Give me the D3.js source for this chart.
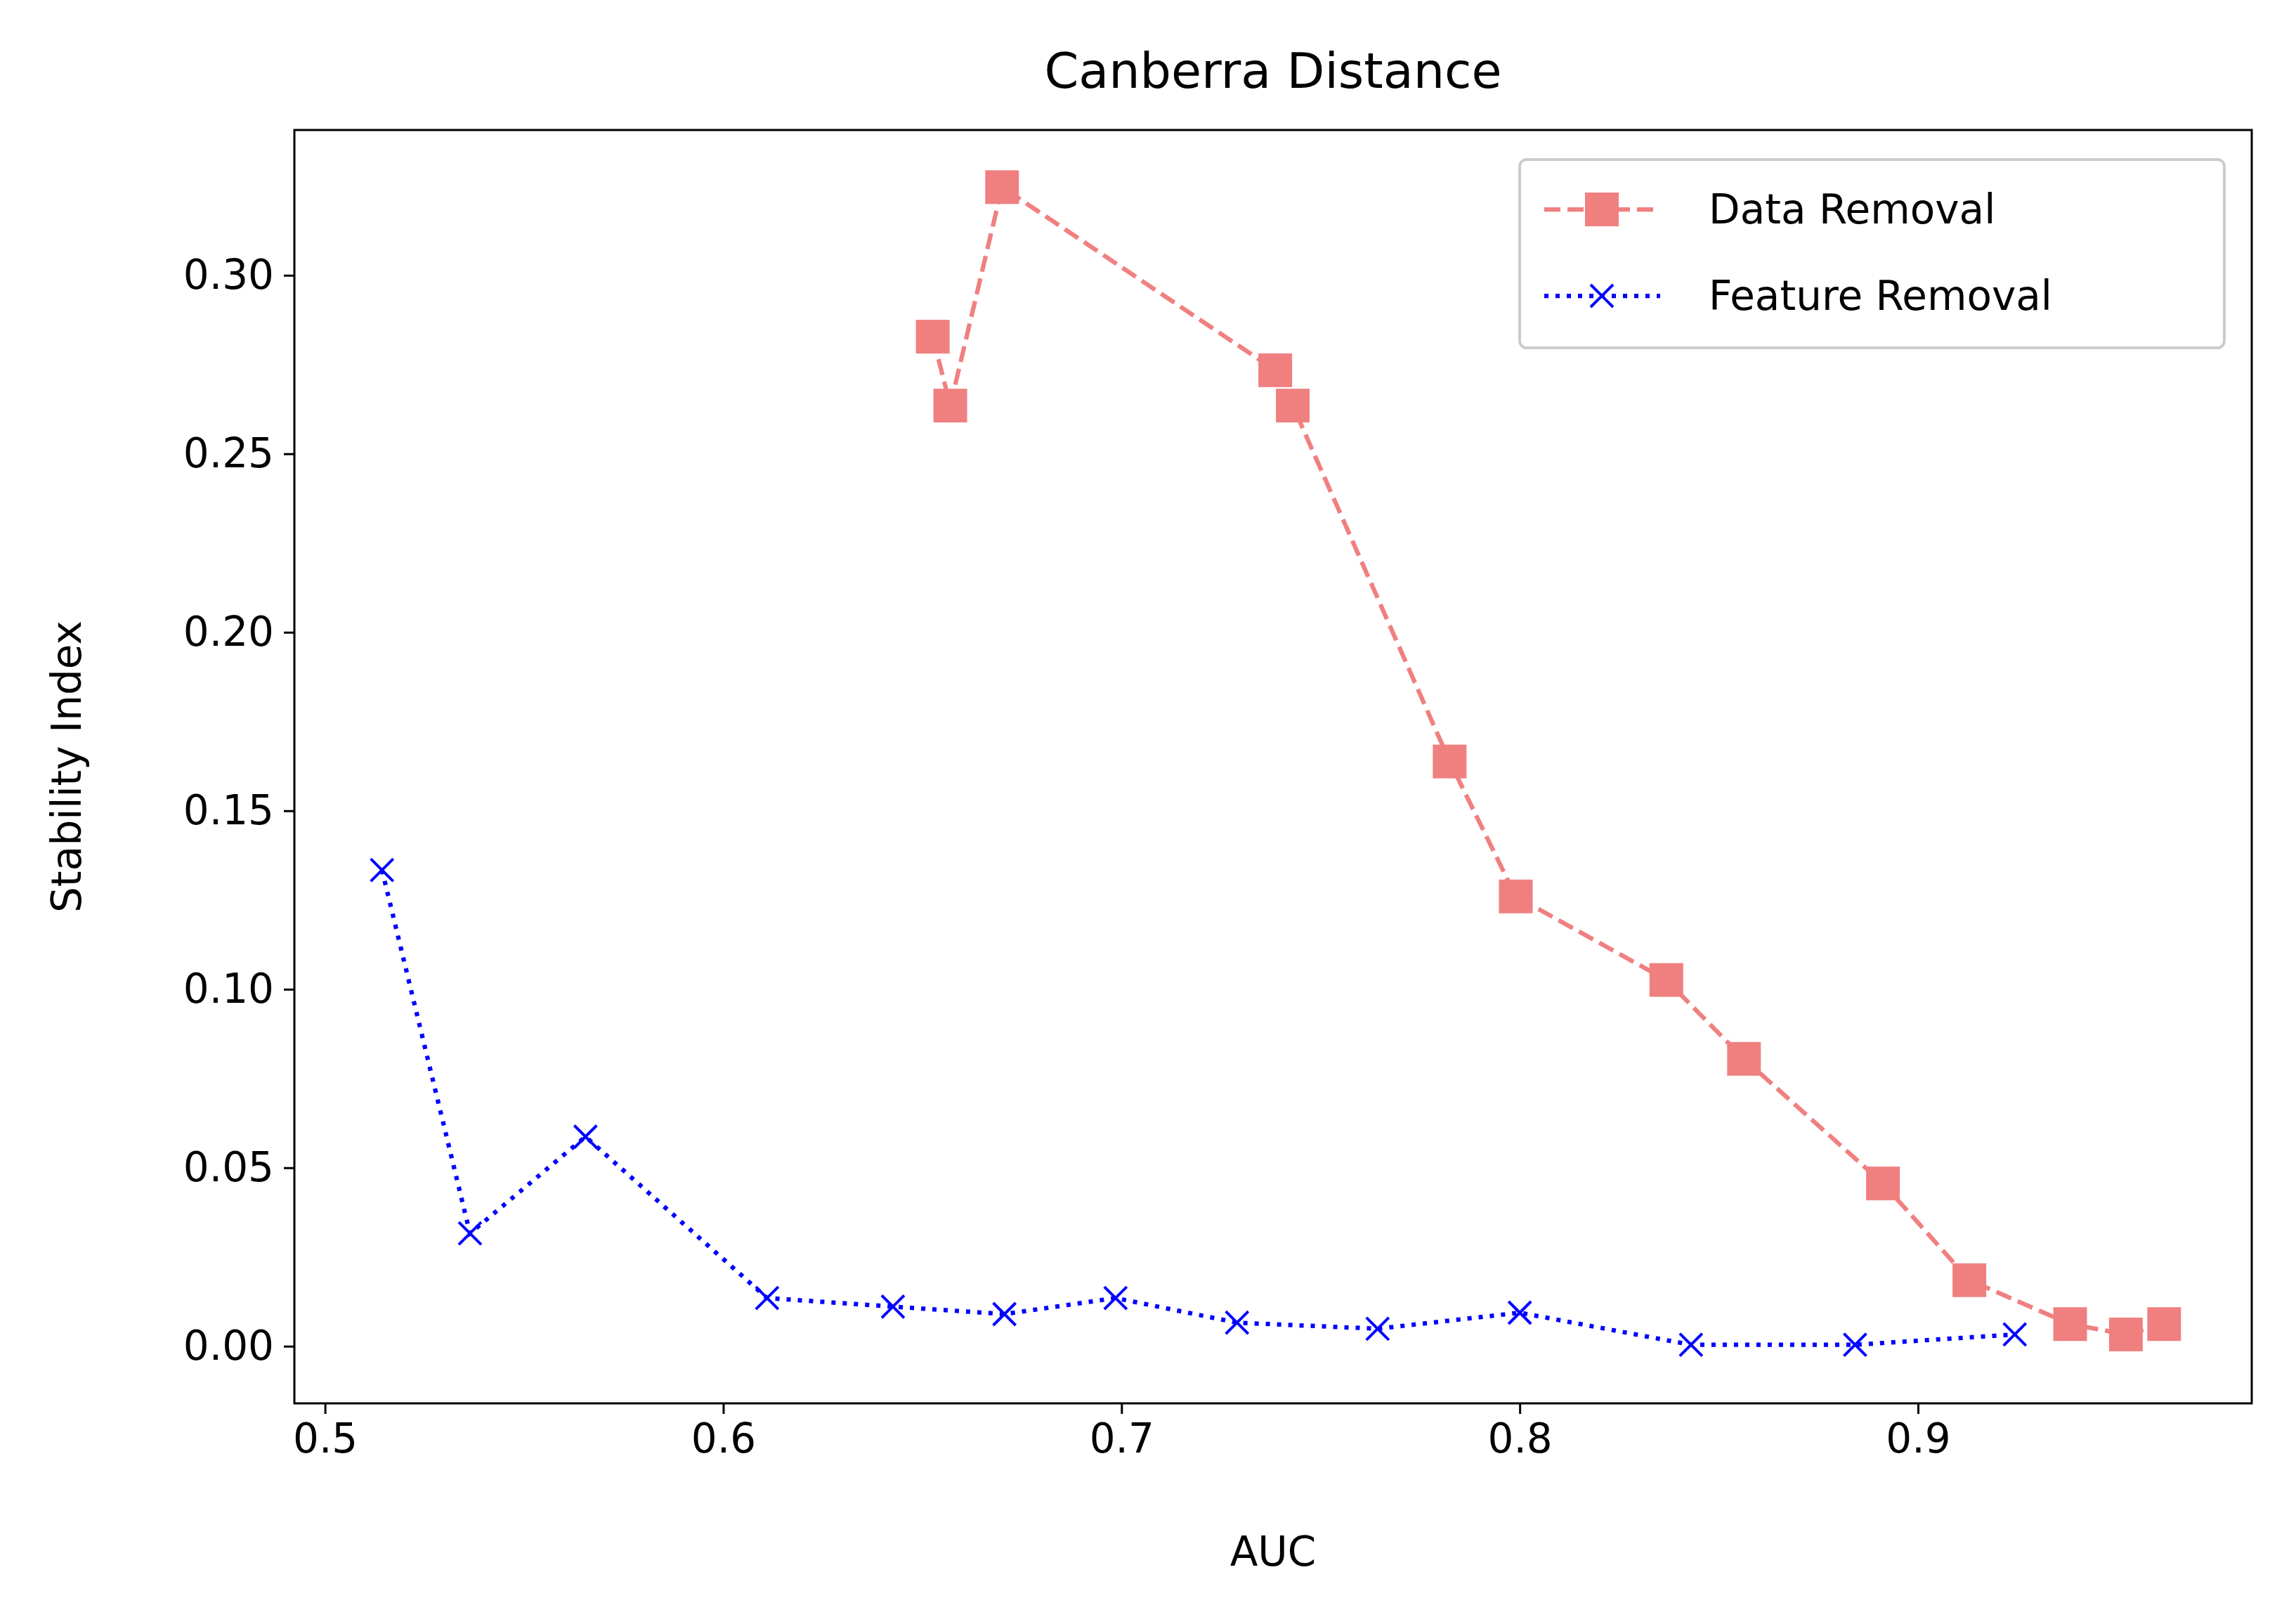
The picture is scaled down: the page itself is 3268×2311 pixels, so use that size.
<!DOCTYPE html>
<html><head><meta charset="utf-8">
<script src="https://cdn.jsdelivr.net/npm/d3@7"></script>
<style>body{margin:0;background:#fff}text{font-family:"DejaVu Sans",sans-serif}</style>
</head><body>
<script>
var dataAuc = [0.6526,0.657,0.670,0.7386,0.743,0.7824,0.799,0.8368,0.8563,0.8912,0.9129,0.9382,0.9522,0.9618];
var dataStab = [0.2828,0.2635,0.3247,0.2734,0.2635,0.1638,0.126,0.1026,0.0805,0.0456,0.0185,0.0062,0.0033,0.0062];
var featAuc = [0.5143,0.5364,0.5654,0.611,0.6426,0.6706,0.6985,0.729,0.7643,0.8,0.843,0.8842,0.9243];
var featStab = [0.1334,0.0316,0.0587,0.0135,0.0111,0.009,0.0135,0.0066,0.0049,0.0094,0.0004,0.0004,0.0033];
var xTicks = [0.5,0.6,0.7,0.8,0.9];
var yTicks = [0,0.05,0.1,0.15,0.2,0.25,0.3];

var W = 3268, H = 2311, L = 419, R = 3205, T = 185, B = 1997;
var FS = 58;
var svg = d3.select('body').append('svg').attr('width', W).attr('height', H);
var x = d3.scaleLinear().domain([0.4923,0.9838]).range([L,R]);
var y = d3.scaleLinear().domain([-0.016,0.3407]).range([B,T]);

var xa = svg.append('g').attr('transform', `translate(0,${B})`)
  .call(d3.axisBottom(x).tickValues(xTicks).tickFormat(d3.format('.1f')).tickSize(15).tickPadding(14));
var ya = svg.append('g').attr('transform', `translate(${L},0)`)
  .call(d3.axisLeft(y).tickValues(yTicks).tickFormat(d3.format('.2f')).tickSize(15).tickPadding(14));
[xa, ya].forEach(function(a){
  a.selectAll('path').remove();
  a.selectAll('line').attr('stroke','#000').attr('stroke-width',3);
  a.selectAll('text').attr('font-size',FS).attr('fill','#000');
});
svg.append('rect').attr('x',L).attr('y',T).attr('width',R-L).attr('height',B-T)
  .attr('fill','none').attr('stroke','#000').attr('stroke-width',3);

svg.append('text').attr('x',(L+R)/2).attr('y',125).attr('text-anchor','middle').attr('font-size',70).text('Canberra Distance');
svg.append('text').attr('x',(L+R)/2).attr('y',2228).attr('text-anchor','middle').attr('font-size',FS).text('AUC');
svg.append('text').attr('transform',`translate(115,${(T+B)/2}) rotate(-90)`).attr('text-anchor','middle').attr('font-size',FS).text('Stability Index');

var line = d3.line().x(function(d){return x(d[0]);}).y(function(d){return y(d[1]);});
var dataPts = d3.zip(dataAuc, dataStab), featPts = d3.zip(featAuc, featStab);
var red = '#f08080', blue = '#0000ff';

svg.append('path').attr('d', line(dataPts)).attr('fill','none').attr('stroke',red)
  .attr('stroke-width',6.25).attr('stroke-dasharray','23,10');
svg.selectAll('rect.dm').data(dataPts).enter().append('rect').attr('class','dm')
  .attr('x',function(d){return x(d[0])-24;}).attr('y',function(d){return y(d[1])-24;})
  .attr('width',48).attr('height',48).attr('fill',red);

svg.append('path').attr('d', line(featPts)).attr('fill','none').attr('stroke',blue)
  .attr('stroke-width',6.25).attr('stroke-dasharray','6,10');
function cross(g, cx, cy, s){
  g.append('path').attr('d',`M${cx-s},${cy-s}L${cx+s},${cy+s}M${cx-s},${cy+s}L${cx+s},${cy-s}`)
    .attr('stroke',blue).attr('stroke-width',4).attr('fill','none');
}
featPts.forEach(function(d){ cross(svg, x(d[0]), y(d[1]), 16); });

// legend
var lg = svg.append('g');
lg.append('rect').attr('x',2163).attr('y',227).attr('width',1003).attr('height',268).attr('rx',10)
  .attr('fill','#fff').attr('fill-opacity',0.8).attr('stroke','#ccc').attr('stroke-width',4);
lg.append('line').attr('x1',2198).attr('x2',2363).attr('y1',298).attr('y2',298)
  .attr('stroke',red).attr('stroke-width',6.25).attr('stroke-dasharray','23,10');
lg.append('rect').attr('x',2256).attr('y',274).attr('width',48).attr('height',48).attr('fill',red);
lg.append('line').attr('x1',2198).attr('x2',2363).attr('y1',421).attr('y2',421)
  .attr('stroke',blue).attr('stroke-width',6.25).attr('stroke-dasharray','6,10');
cross(lg, 2280, 421, 16);
lg.append('text').attr('x',2432).attr('y',318).attr('font-size',FS).text('Data Removal');
lg.append('text').attr('x',2432).attr('y',441).attr('font-size',FS).text('Feature Removal');
</script>
</body></html>
